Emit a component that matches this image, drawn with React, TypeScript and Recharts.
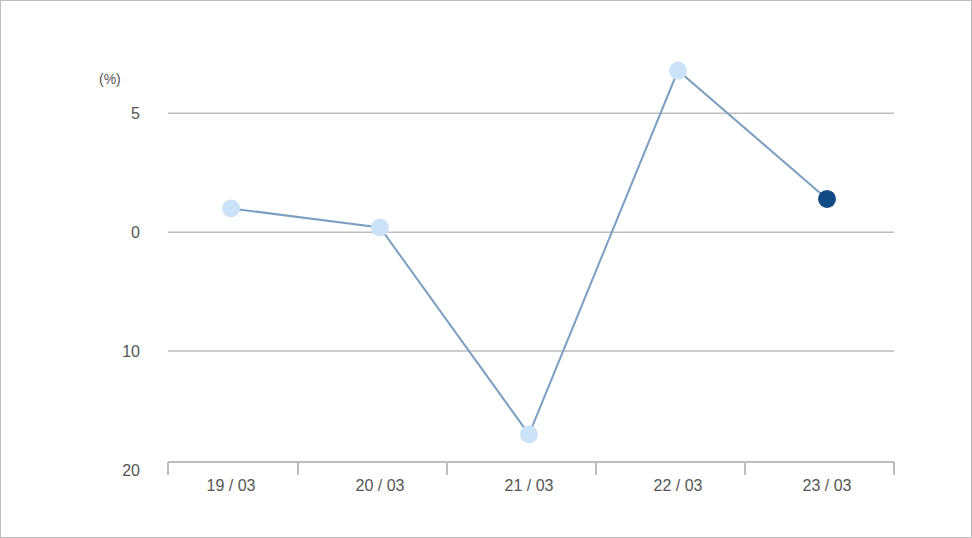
import React from "react";
import { LineChart, Line, XAxis, YAxis, CartesianGrid } from "recharts";

const dates = ["19 / 03", "20 / 03", "21 / 03", "22 / 03", "23 / 03"];
const changes = [1.0, 0.2, -8.5, 6.8, 1.4];
const yTicks = [5, 0, -5, -10];
const yTickLabels = ["5", "0", "10", "20"];
const gridValues = [5, 0, -5];

const data = dates.map((date, i) => ({ date, change: changes[i] }));

const TEXT = "#555";
const AXIS = "#bdbdbd";

function DateTick(props: any) {
  const { x, y, payload, index } = props;
  return (
    <g>
      <line x1={x + 67} x2={x + 67} y1={y - 8} y2={y + 5} stroke={AXIS} strokeWidth={2} />
      {index === 0 && (
        <line x1={x - 63} x2={x - 63} y1={y - 8} y2={y + 5} stroke={AXIS} strokeWidth={2} />
      )}
      <text x={x} y={y + 21} textAnchor="middle" fill={TEXT} fontSize={16}>
        {payload.value}
      </text>
    </g>
  );
}

function Dot(props: any) {
  const { cx, cy, index } = props;
  const last = index === data.length - 1;
  return <circle key={index} cx={cx} cy={cy} r={9} fill={last ? "#124a85" : "#cce2f7"} />;
}

export default function App() {
  return (
    <div
      style={{
        position: "absolute",
        left: 0,
        top: 0,
        width: 972,
        height: 538,
        boxSizing: "border-box",
        border: "1px solid #bdbdbd",
        background: "#fff",
        fontFamily: "'Liberation Sans', Arial, sans-serif",
      }}
    >
      <div style={{ position: "absolute", left: 98, top: 70, fontSize: 14, color: TEXT }}>(%)</div>
      <LineChart
        width={970}
        height={536}
        data={data}
        margin={{ top: 41, right: 77, bottom: 27, left: 0 }}
        style={{ position: "absolute", left: 0, top: 0 }}
      >
        <CartesianGrid vertical={false} horizontalValues={gridValues} stroke={AXIS} strokeWidth={1.5} />
        <XAxis
          dataKey="date"
          padding={{ left: 63, right: 67 }}
          height={40}
          tickLine={false}
          axisLine={{ stroke: AXIS, strokeWidth: 2, transform: "translate(0,-8)" }}
          tickSize={0}
          tickMargin={0}
          tick={<DateTick />}
          interval={0}
        />
        <YAxis
          width={167}
          domain={[-10, 8]}
          ticks={yTicks}
          tickFormatter={(v: number) => yTickLabels[yTicks.indexOf(v)]}
          axisLine={false}
          tickLine={false}
          tickSize={0}
          tickMargin={28}
          tick={{ fill: TEXT, fontSize: 16 }}
        />
        <Line
          dataKey="change"
          stroke="#7a9fc0"
          strokeWidth={2}
          dot={<Dot />}
          activeDot={false}
          isAnimationActive={false}
        />
      </LineChart>
    </div>
  );
}
